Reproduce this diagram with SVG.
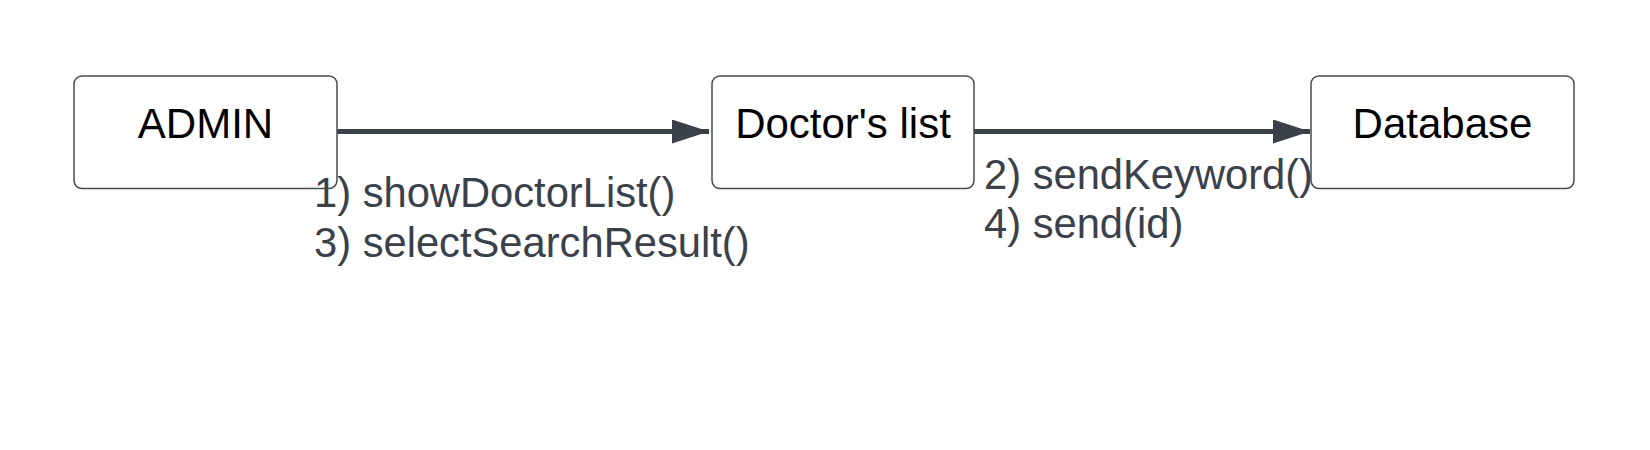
<svg xmlns="http://www.w3.org/2000/svg" width="1650" height="450" viewBox="0 0 1650 450">
<style>
.box{fill:#fff;stroke:#474b50;stroke-width:1.5}
.bt{font-family:"Liberation Sans",Arial,sans-serif;font-size:42px;fill:#000;text-anchor:middle}
.lb{font-family:"Liberation Sans",Arial,sans-serif;font-size:41.7px;fill:#3a414a}
.edge{stroke:#3a414a;stroke-width:5;fill:none}
</style>
<defs>
<marker id="ah" markerUnits="userSpaceOnUse" markerWidth="38" markerHeight="24" refX="37" refY="12" orient="auto">
<path d="M0,0 L37,12 L0,24 Z" fill="#3a414a"/>
</marker>
</defs>
<rect width="1650" height="450" fill="#fff"/>
<g id="connectors">
<line class="edge" x1="337" y1="131.500" x2="709" y2="131.500" marker-end="url(#ah)"/>
<line class="edge" x1="974" y1="131.500" x2="1310" y2="131.500" marker-end="url(#ah)"/>
</g>
<g id="admin">
<rect class="box" x="74" y="76" width="263" height="112.500" rx="8"/>
<text class="bt" x="205.500" y="138">ADMIN</text>
</g>
<g id="doctors-list">
<rect class="box" x="712" y="76" width="262" height="112.500" rx="8"/>
<text class="bt" x="843" y="138">Doctor's list</text>
</g>
<g id="database">
<rect class="box" x="1311" y="76" width="263" height="112.500" rx="8"/>
<text class="bt" x="1442.500" y="138">Database</text>
</g>
<g id="labels">
<text class="lb" x="314" y="207">1) showDoctorList()</text>
<text class="lb" x="314" y="257">3) selectSearchResult()</text>
<text class="lb" x="984" y="188.500">2) sendKeyword()</text>
<text class="lb" x="984" y="238">4) send(id)</text>
</g>
</svg>
